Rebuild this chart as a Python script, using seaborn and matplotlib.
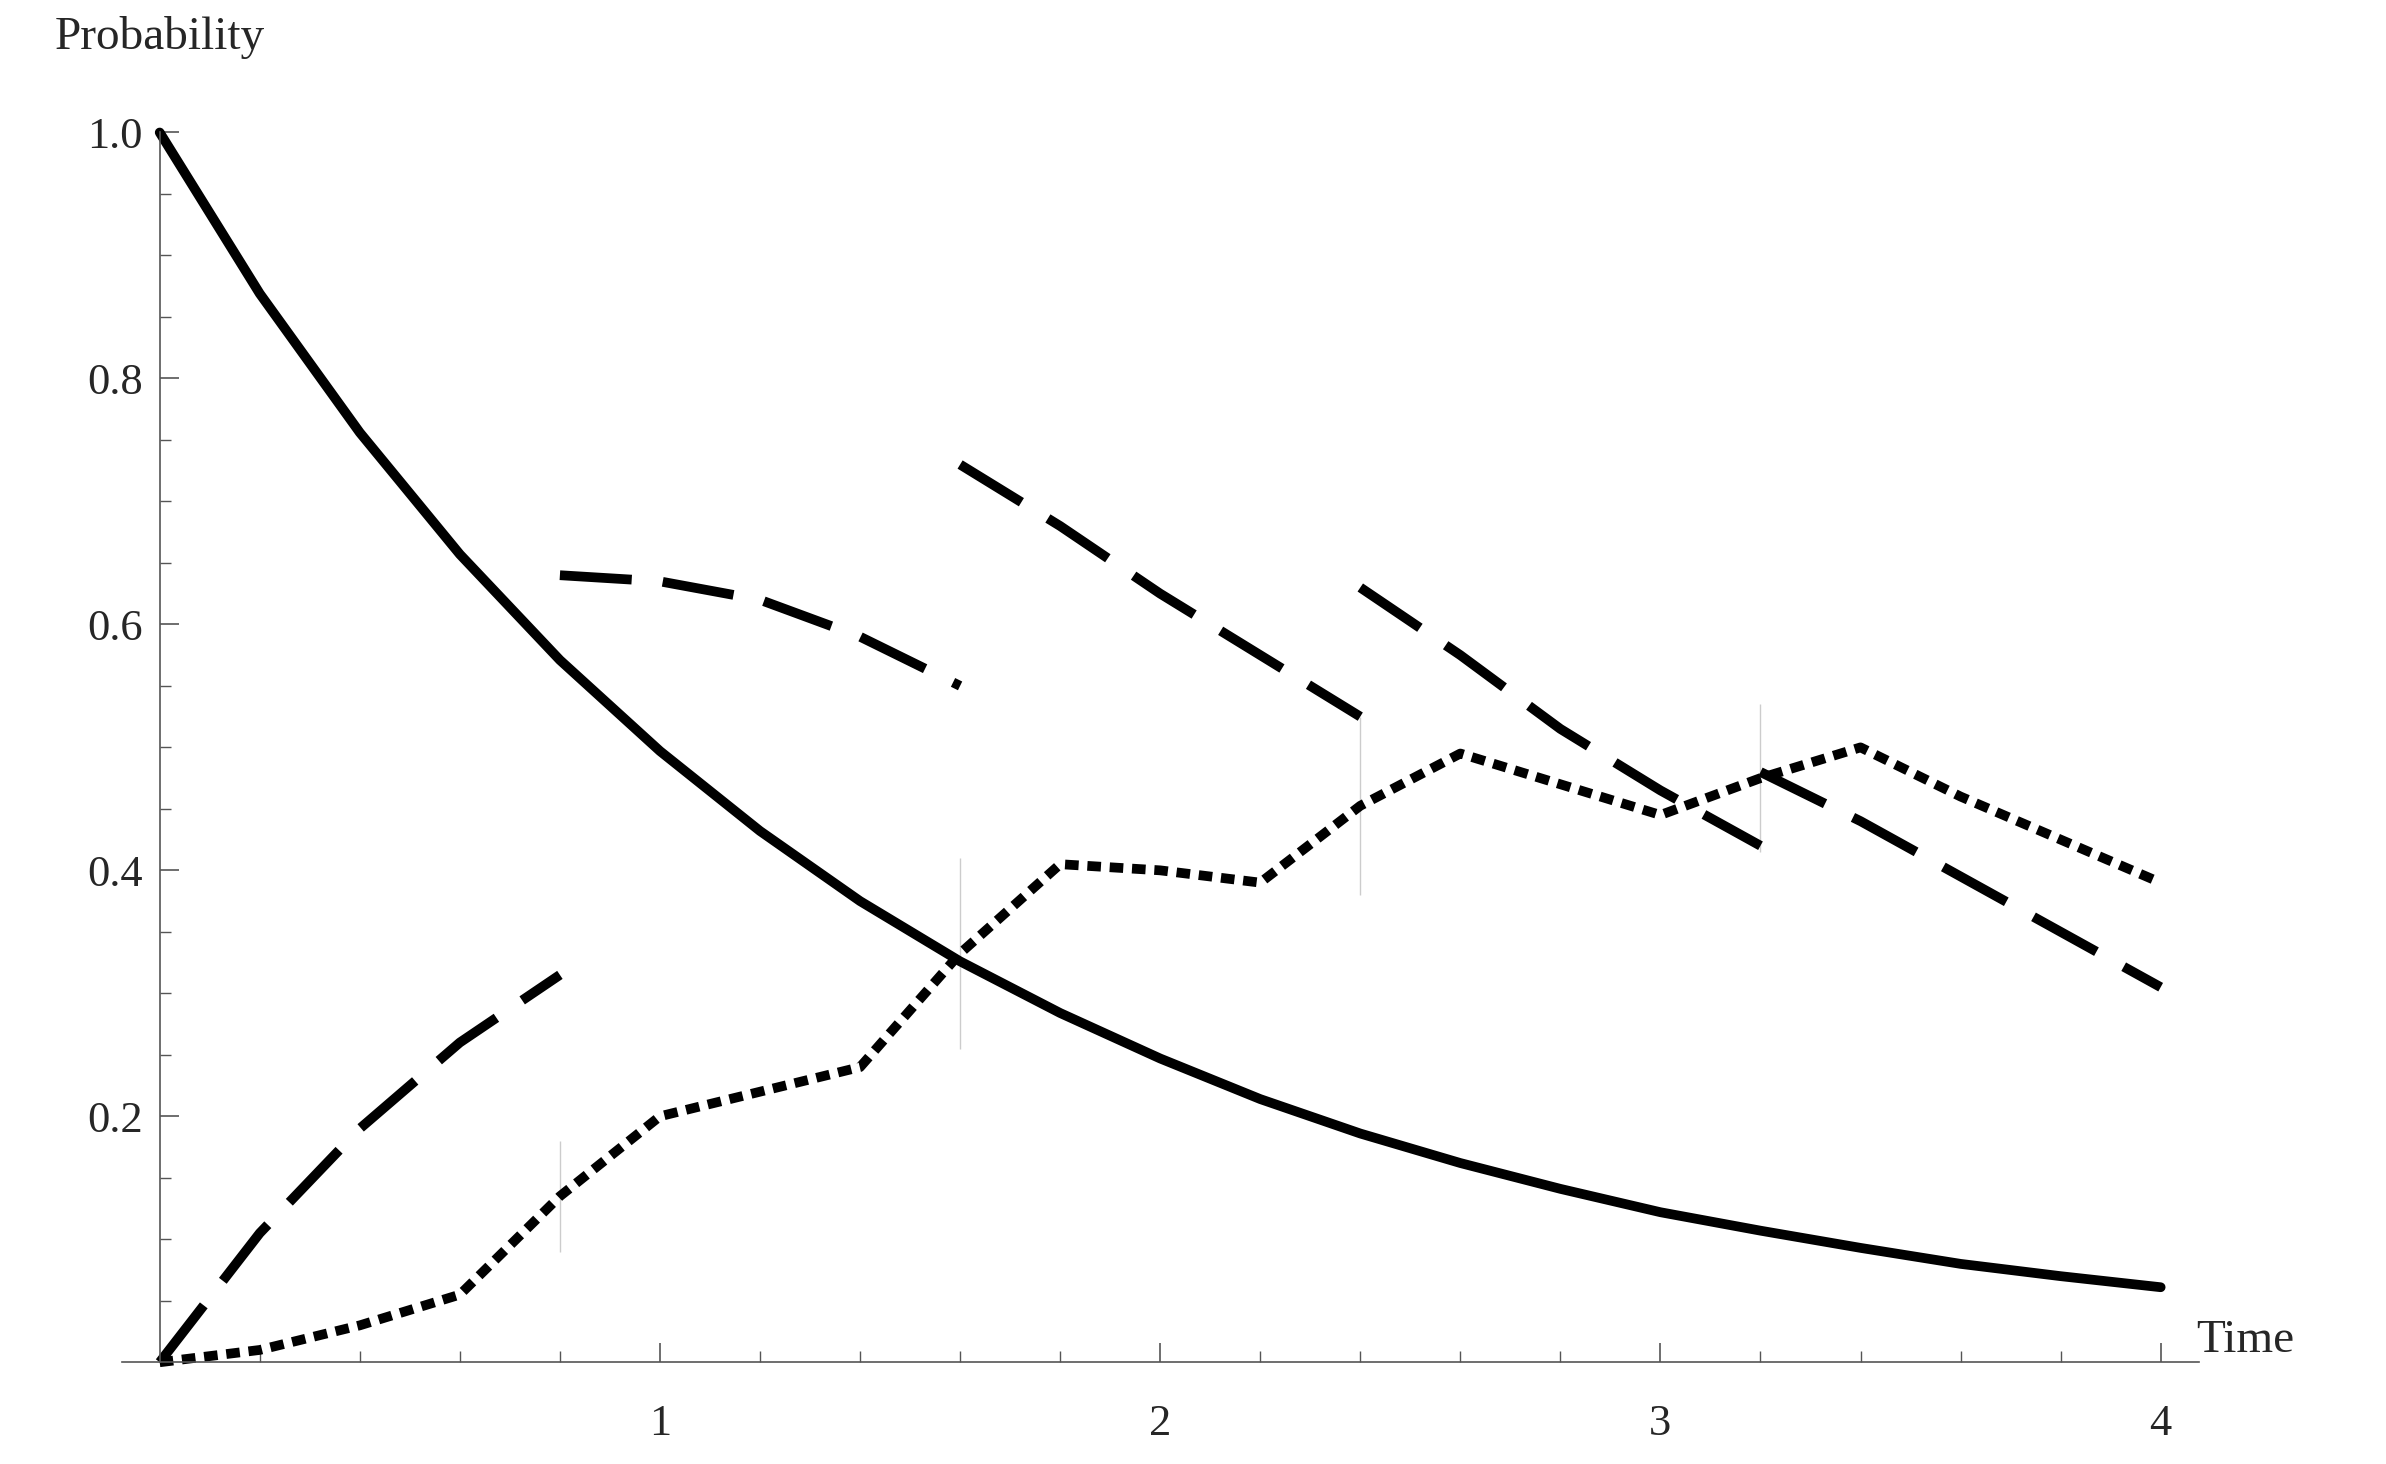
import matplotlib
matplotlib.use("Agg")
import matplotlib.pyplot as plt
import seaborn as sns
import numpy as np

sns.set_style("ticks")
plt.rcParams['font.family'] = ['Liberation Serif', 'DejaVu Serif']

t_solid = [0,0.2,0.4,0.6,0.8,1.0,1.2,1.4,1.6,1.8,2.0,2.2,2.4,2.6,2.8,3.0,3.2,3.4,3.6,3.8,4.0]
p_solid = [1,.869,.756,.657,.571,.497,.432,.375,.326,.284,.247,.214,.186,.162,.141,.122,.107,.093,.080,.070,.061]

dash_t = [[0,0.2,0.4,0.6,0.8],[0.8,1.0,1.2,1.4,1.6],[1.6,1.8,2.0,2.2,2.4],[2.4,2.6,2.8,3.0,3.2],[3.2,3.4,3.6,3.8,4.0]]
dash_p = [[0,0.105,0.19,0.26,0.315],[0.64,0.635,0.62,0.59,0.55],[0.73,0.68,0.625,0.575,0.525],
          [0.63,0.575,0.515,0.465,0.42],[0.48,0.44,0.395,0.35,0.305]]

dot_t = [0,0.2,0.4,0.6,0.8,0.8,1.0,1.2,1.4,1.6,1.6,1.8,2.0,2.2,2.4,2.4,2.6,2.8,3.0,3.2,3.2,3.4,3.6,3.8,4.0]
dot_p = [0,0.01,0.03,0.055,0.09,0.18,0.2,0.22,0.24,0.255,0.41,0.405,0.40,0.39,0.38,
         0.525,0.495,0.47,0.445,0.415,0.535,0.50,0.46,0.425,0.39]

fig = plt.figure(figsize=(23.86, 14.64), dpi=100)
ax = fig.add_axes([0.051, 0.0695, 0.8705, 0.840])
lw = 7
sns.lineplot(x=t_solid, y=p_solid, ax=ax, color='black', lw=lw, sort=False, clip_on=False)
for tt, pp in zip(dash_t, dash_p):
    sns.lineplot(x=tt, y=pp, ax=ax, color='black', lw=lw, sort=False, clip_on=False,
                 dashes=False, linestyle=(0, (7.4, 3.2)))
sns.lineplot(x=dot_t, y=dot_p, ax=ax, color='black', lw=lw, sort=False, clip_on=False,
             linestyle=(0, (1.4, 0.9)))

ax.set_xlim(-0.076, 4.076)
ax.set_ylim(0, 1.0)
ax.spines['left'].set_position(('data', 0))
ax.spines['bottom'].set_position(('data', 0))
ax.spines['right'].set_visible(False)
ax.spines['top'].set_visible(False)
for s in ['left', 'bottom']:
    ax.spines[s].set_color('#555555')
    ax.spines[s].set_linewidth(1.2)
ax.set_xticks([1, 2, 3, 4])
ax.set_xticks(np.arange(0.2, 4.01, 0.2), minor=True)
ax.set_yticks([0.2, 0.4, 0.6, 0.8, 1.0])
ax.set_yticklabels(['0.2', '0.4', '0.6', '0.8', '1.0'])
ax.set_yticks(np.arange(0.05, 1.001, 0.05), minor=True)
ax.tick_params(axis='both', which='major', labelsize=32, length=14, width=1.2, color='#555555', direction='in')
ax.tick_params(axis='both', which='minor', length=8, width=1.0, color='#555555', direction='in')
ax.tick_params(axis='x', which='both', direction='out', pad=30)
ax.tick_params(axis='x', which='both', direction='in')
ax.tick_params(axis='y', pad=12)
ax.text(0, 1.06, 'Probability', transform=ax.transData, fontsize=34, ha='center', va='bottom')
ax.text(4.07, 0.0, 'Time', fontsize=34, ha='left', va='bottom')
ax.set_xlabel('')
ax.set_ylabel('')
fig.savefig('out.png', dpi=100)
